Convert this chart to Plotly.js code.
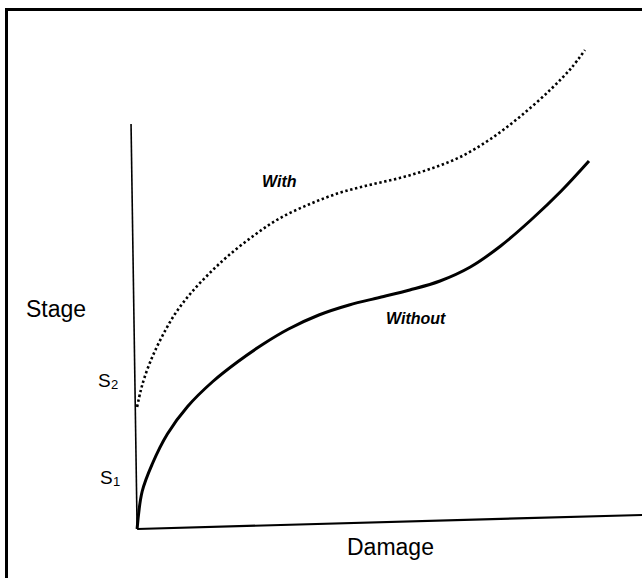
<!DOCTYPE html>
<html>
<head>
<meta charset="utf-8">
<script src="https://cdn.plot.ly/plotly-3.0.1.min.js"></script>
<style>
  html, body { margin: 0; padding: 0; background: #fff; }
  #wrap { position: relative; width: 642px; height: 578px; overflow: hidden; }
  #chart { position: absolute; left: 0; top: 0; width: 642px; height: 578px; }
  #frame { position: absolute; left: 5px; top: 8px; width: 700px; height: 700px;
           border-left: 3px solid #000; border-top: 3px solid #000; pointer-events: none; }
</style>
</head>
<body>
<div id="wrap">
  <div id="chart"></div>
  <div id="frame"></div>
</div>
<script>
// "With" curve (dotted) – damage vs stage
const withDamage = [0, 0.7, 1.5, 3, 5, 7.5, 10.5, 14, 18, 23, 28, 34, 40, 46, 52, 58, 64, 70, 76, 82, 86, 88.7];
const withStage  = [24.4, 27.6, 30.4, 34.4, 38.6, 43, 47, 50.8, 54.6, 58.6, 62, 64.9, 67.2, 68.8, 70.2, 72, 74.4, 78, 82.6, 88, 92.2, 95.8];

// "Without" curve (solid)
const withoutDamage = [0, 1, 3, 6, 10, 15, 20, 25, 30, 36, 42, 48, 54, 60, 66, 72, 78, 84, 89.5];
const withoutStage  = [0, 7.5, 13, 19, 24.5, 29.5, 33.5, 37, 40, 42.8, 44.8, 46.3, 47.8, 49.6, 52.4, 56.6, 61.8, 67.6, 73.6];

// Text labels
const curveLabels = ["With", "Without"];
const axisLabels = { x: "Damage", y: "Stage" };
const levelLetter = "S";
const levelIndices = ["1", "2"];

const FONT = "Liberation Sans, Arial, Helvetica, sans-serif";

const traces = [
  {
    x: withDamage, y: withStage, type: "scatter", mode: "lines", name: curveLabels[0],
    line: { color: "#000", width: 2.6, dash: "2.4px,2.6px", shape: "spline", smoothing: 1 },
    hoverinfo: "skip"
  },
  {
    x: withoutDamage, y: withoutStage, type: "scatter", mode: "lines", name: curveLabels[1],
    line: { color: "#000", width: 3, shape: "spline", smoothing: 1 },
    hoverinfo: "skip"
  }
];

function label(text, x, y, size, xanchor, extra) {
  return Object.assign({
    text: text, x: x, y: y, xref: "paper", yref: "paper", showarrow: false,
    xanchor: xanchor || "center", yanchor: "middle", borderpad: 0, borderwidth: 0,
    font: { family: FONT, size: size, color: "#000" }
  }, extra || {});
}

const layout = {
  width: 642, height: 578,
  margin: { l: 127, r: 0, t: 29, b: 39, pad: 0 },
  paper_bgcolor: "#fff", plot_bgcolor: "#fff",
  showlegend: false,
  font: { family: FONT, color: "#000" },
  xaxis: { range: [-2, 100], visible: false, showgrid: false, zeroline: false, fixedrange: true },
  yaxis: { range: [-2, 100], visible: false, showgrid: false, zeroline: false, fixedrange: true },
  shapes: [
    { type: "line", xref: "x", yref: "y", x0: 0, y0: 0, x1: -1.2, y1: 81, line: { color: "#000", width: 1.6 } },
    { type: "line", xref: "x", yref: "y", x0: 0, y0: 0, x1: 100, y1: 2.8, line: { color: "#000", width: 2.2 } }
  ],
  annotations: [
    { text: curveLabels[0], x: 28.3, y: 69.6, xref: "x", yref: "y", showarrow: false,
      font: { family: FONT, size: 16, style: "italic", weight: "bold", color: "#000" } },
    { text: curveLabels[1], x: 55.2, y: 42.2, xref: "x", yref: "y", showarrow: false,
      font: { family: FONT, size: 16, style: "italic", weight: "bold", color: "#000" } },
    label(axisLabels.y, -0.138, 0.451, 23),
    label(axisLabels.x, 0.511, -0.016, 23),
    label(levelLetter, -0.031, 0.310, 19, "right"),
    label(levelIndices[1], -0.031, 0.302, 13, "left"),
    label(levelLetter, -0.027, 0.120, 19, "right"),
    label(levelIndices[0], -0.027, 0.112, 13, "left")
  ]
};

Plotly.newPlot("chart", traces, layout, { staticPlot: true, displayModeBar: false });
</script>
</body>
</html>
